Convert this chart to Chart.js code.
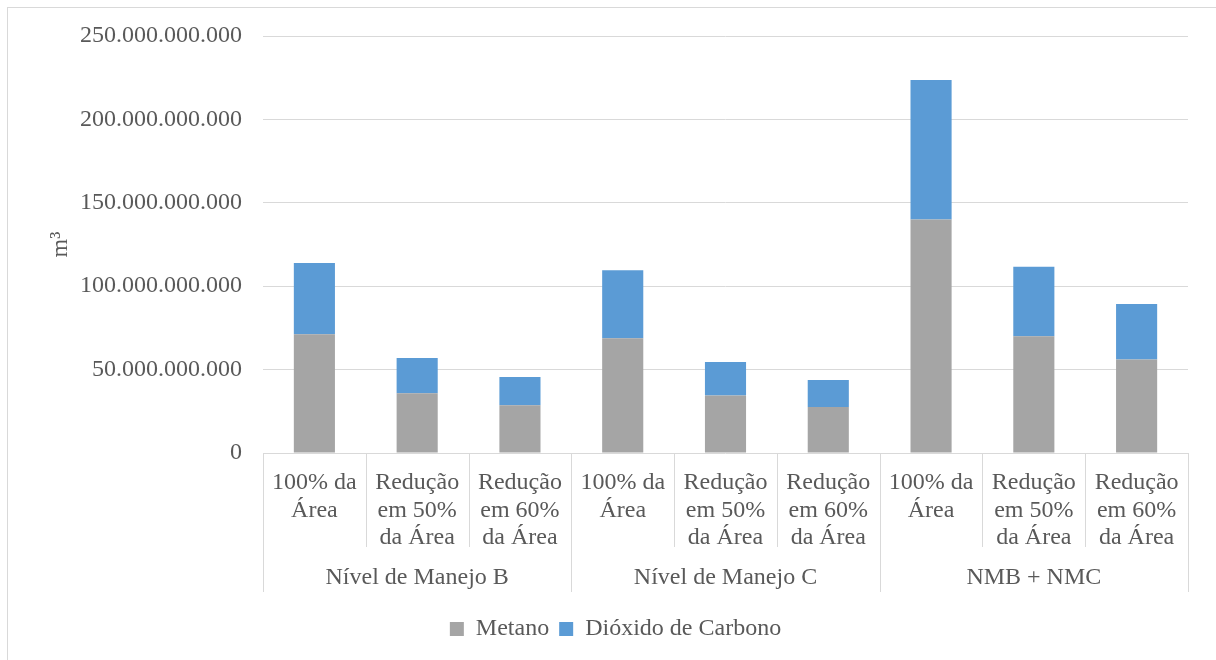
<!DOCTYPE html>
<html>
<head>
<meta charset="utf-8">
<script src="https://cdn.jsdelivr.net/npm/chart.js@4.4.0/dist/chart.umd.min.js"></script>
<style>
  html, body { margin: 0; padding: 0; background: #fff; overflow: hidden; }
  #box { position: absolute; left: 7px; top: 7px; width: 1208px; height: 652px;
         border-left: 1px solid #d9d9d9; border-top: 1px solid #d9d9d9; }
  #chart { display: block; }
</style>
</head>
<body>
<div id="box"><canvas id="chart" width="1208" height="652"></canvas></div>
<script>
// categorias (rótulos em várias linhas) e grupos
var categories = [
  ["100% da", "Área"], ["Redução", "em 50%", "da Área"], ["Redução", "em 60%", "da Área"],
  ["100% da", "Área"], ["Redução", "em 50%", "da Área"], ["Redução", "em 60%", "da Área"],
  ["100% da", "Área"], ["Redução", "em 50%", "da Área"], ["Redução", "em 60%", "da Área"]
];
var groups = ["Nível de Manejo B", "Nível de Manejo C", "NMB + NMC"];
var groupSize = 3;

// valores em m³
var metano = [71200000000, 35800000000, 28600000000, 68800000000, 34400000000, 27600000000, 140000000000, 70000000000, 56000000000];
var dioxido = [42700000000, 21200000000, 17000000000, 40700000000, 20200000000, 16200000000, 83600000000, 41700000000, 33400000000];
var yTicks = [0, 50000000000, 100000000000, 150000000000, 200000000000, 250000000000];

var FONT = "'Liberation Serif', 'Times New Roman', serif";
var TEXT = '#595959';
var LINE = '#d9d9d9';

function fmt(v) {
     return String(Math.round(v)).replace(/\B(?=(\d{3})+(?!\d))/g, '.');
}

// linhas divisórias e rótulos dos grupos no eixo x
var groupAxis = {
     id: 'groupAxis',
     afterDraw: function(chart) {
          var ctx = chart.ctx, x = chart.scales.x, area = chart.chartArea;
          var n = categories.length;
          ctx.save();
          ctx.strokeStyle = LINE;
          ctx.lineWidth = 1;
          for (var i = 0; i <= n; i++) {
               var px;
               if (i === 0) px = area.left;
               else if (i === n) px = area.right;
               else px = (x.getPixelForValue(i - 1) + x.getPixelForValue(i)) / 2;
               px = Math.round(px) + 0.5;
               var len = (i % groupSize === 0) ? 139 : 94;
               ctx.beginPath();
               ctx.moveTo(px, area.bottom);
               ctx.lineTo(px, area.bottom + len);
               ctx.stroke();
          }
          ctx.fillStyle = TEXT;
          ctx.font = '24px ' + FONT;
          ctx.textAlign = 'center';
          ctx.textBaseline = 'middle';
          for (var g = 0; g < groups.length; g++) {
               var a = x.getPixelForValue(g * groupSize);
               var b = x.getPixelForValue(g * groupSize + groupSize - 1);
               ctx.fillText(groups[g], (a + b) / 2, area.bottom + 125);
          }
          ctx.restore();
     }
};

new Chart('chart', {
     type: 'bar',
     data: {
          labels: categories,
          datasets: [
               {
                    label: 'Metano',
                    data: metano,
                    backgroundColor: '#a5a5a5',
                    borderWidth: 0,
                    barPercentage: 0.4,
                    categoryPercentage: 1
               },
               {
                    label: 'Dióxido de Carbono',
                    data: dioxido,
                    backgroundColor: '#5b9bd5',
                    borderWidth: 0,
                    barPercentage: 0.4,
                    categoryPercentage: 1
               }
          ]
     },
     plugins: [groupAxis],
     options: {
          responsive: false,
          animation: false,
          layout: { padding: { top: 28, right: 28, left: 35, bottom: 9 } },
          plugins: {
               tooltip: { enabled: false },
               legend: {
                    display: true,
                    position: 'bottom',
                    labels: {
                         color: TEXT,
                         font: { family: FONT, size: 24 },
                         boxWidth: 14,
                         boxHeight: 14,
                         padding: 10
                    }
               }
          },
          scales: {
               x: {
                    stacked: true,
                    grid: { display: false },
                    border: { display: false },
                    ticks: {
                         color: TEXT,
                         font: { family: FONT, size: 24, lineHeight: 1.15 },
                         padding: 8,
                         maxRotation: 0,
                         autoSkip: false
                    },
                    afterFit: function(scale) { scale.height = 154; }
               },
               y: {
                    stacked: true,
                    min: 0,
                    max: 250000000000,
                    afterBuildTicks: function(scale) {
                         scale.ticks = yTicks.map(function(v) { return { value: v }; });
                    },
                    grid: { color: LINE, lineWidth: 1, drawTicks: false },
                    border: { display: false },
                    ticks: {
                         color: TEXT,
                         font: { family: FONT, size: 24 },
                         padding: 21,
                         callback: function(v) { return fmt(v); }
                    },
                    title: {
                         display: true,
                         text: 'm³',
                         color: TEXT,
                         font: { family: FONT, size: 24 },
                         padding: { top: 3, bottom: 4 }
                    },
                    afterFit: function(scale) {
                         scale.width = 220;
                         scale.paddingTop = 0;
                         scale.paddingBottom = 0;
                    }
               }
          }
     }
});
</script>
</body>
</html>
